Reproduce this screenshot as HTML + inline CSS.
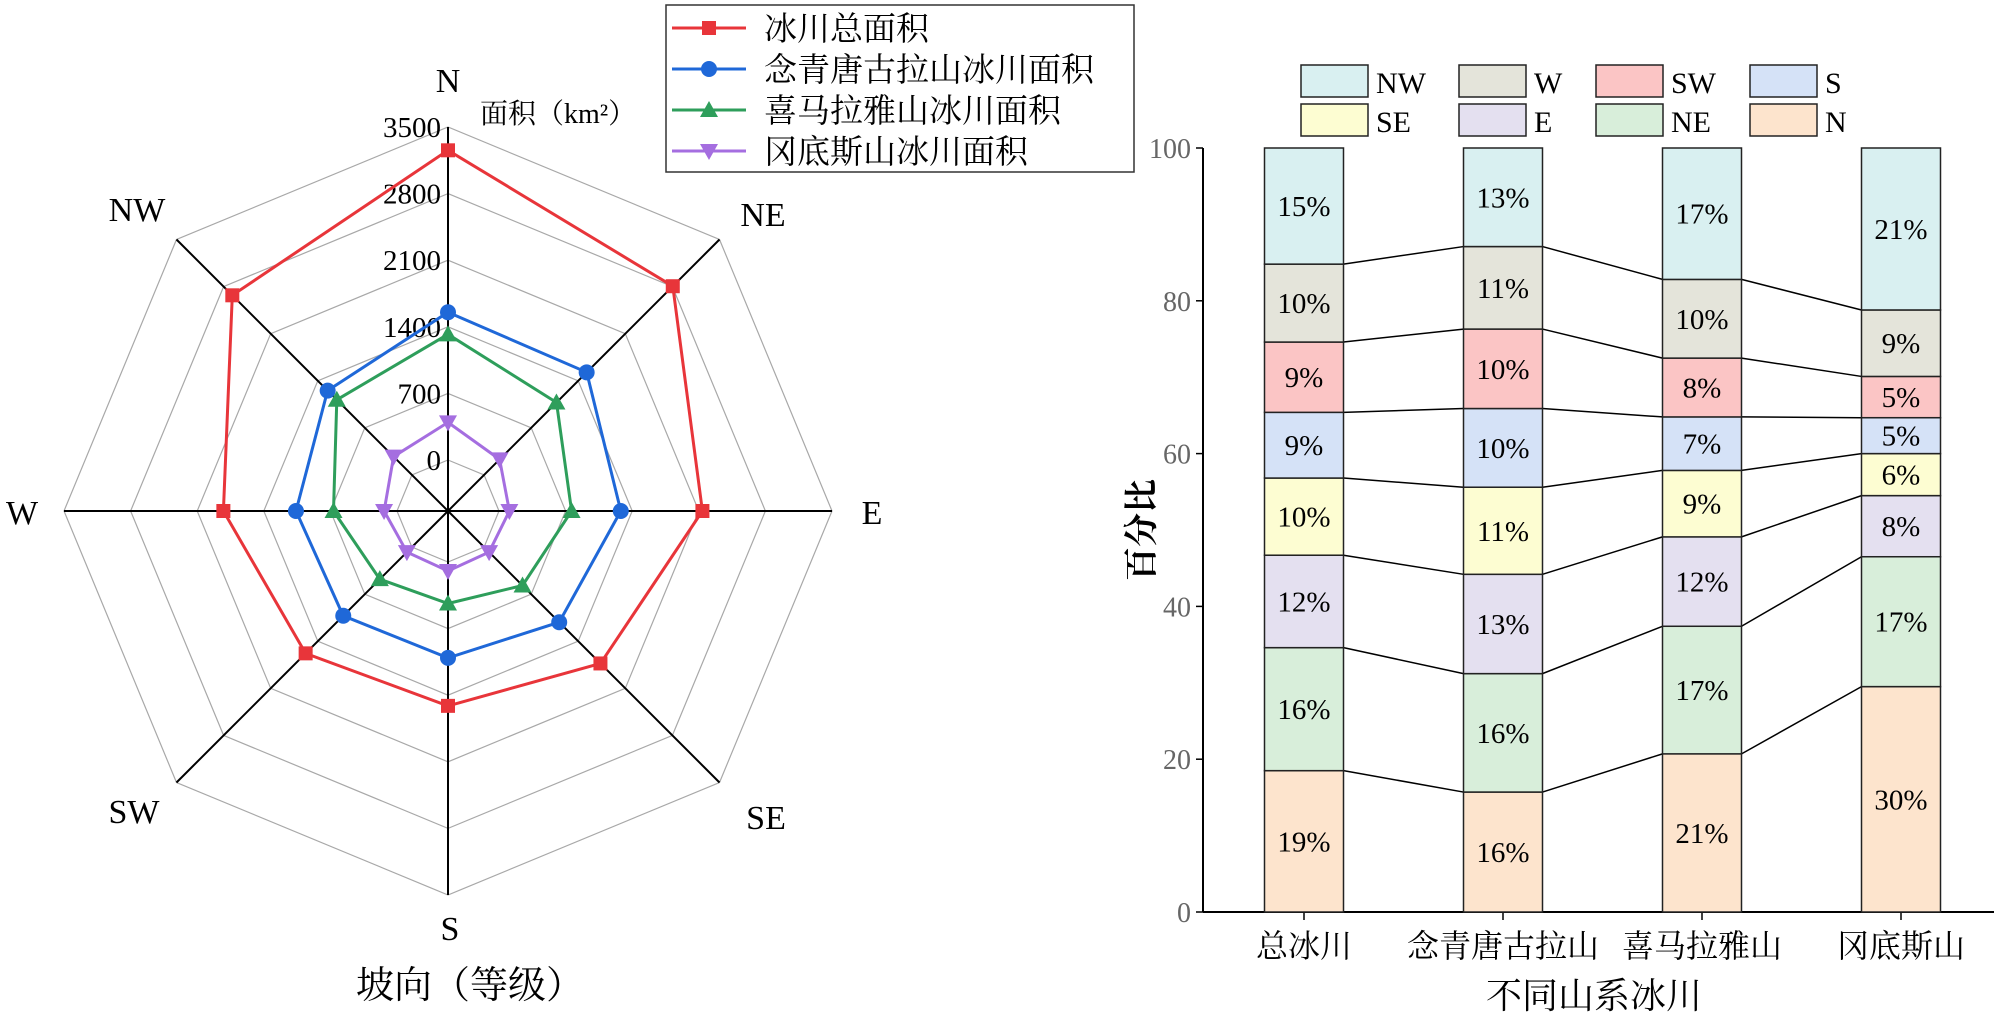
<!DOCTYPE html>
<html><head><meta charset="utf-8"><style>
html,body{margin:0;padding:0;background:#fff;}
svg{display:block;font-family:"Liberation Serif","Noto Serif CJK SC",serif;}
</style></head><body>
<svg id="chart" width="2000" height="1020" viewBox="0 0 2000 1020" xmlns="http://www.w3.org/2000/svg">
<g id="radar"></g>
<g id="bars"></g>
</svg>
<script>
// ---------- Radar data ----------
const directions = ["N","NE","E","SE","S","SW","W","NW"];
const radarTicks = [0,700,1400,2100,2800,3500];
const totalArea = [3255,2805,2138,1730,1512,1580,1825,2670];
const nqtglArea = [1553,1525,1280,1117,1008,1021,1062,1253];
const himalayaArea = [1321,1076,763,572,436,477,667,1117];
const gangdiseArea = [395,231,109,75,95,75,136,272];
const radarSeriesNames = ["冰川总面积","念青唐古拉山冰川面积","喜马拉雅山冰川面积","冈底斯山冰川面积"];

// ---------- Stacked bar data (bottom to top: N, NE, E, SE, S, SW, W, NW) ----------
const stackKeys = ["N","NE","E","SE","S","SW","W","NW"];
const groups = ["总冰川","念青唐古拉山","喜马拉雅山","冈底斯山"];
const pctTotal = [18.5,16.1,12.1,10.1,8.6,9.2,10.2,15.2];
const pctNqtgl = [15.7,15.5,13.0,11.4,10.3,10.4,10.8,12.9];
const pctHimalaya = [20.7,16.7,11.7,8.7,7.0,7.7,10.3,17.2];
const pctGangdise = [29.5,17.0,8.0,5.5,4.7,5.4,8.7,21.2];
const yTicks = [0,20,40,60,80,100];

const NS = "http://www.w3.org/2000/svg";
function mk(parent, tag, attrs, text){
  const e = document.createElementNS(NS, tag);
  for (const k in attrs) e.setAttribute(k, attrs[k]);
  if (text !== undefined) e.textContent = text;
  parent.appendChild(e);
  return e;
}

// ===== RADAR =====
const radar = document.getElementById('radar');
const cx = 448, cy = 511, R = 384, r0 = 51, vmax = 3500;
function rScale(v){ return r0 + v / vmax * (R - r0); }
function ang(i){ return -Math.PI/2 + i * Math.PI/4; }
function pt(i, v){ const r = rScale(v); return [cx + r*Math.cos(ang(i)), cy + r*Math.sin(ang(i))]; }

radarTicks.forEach(t => {
  const pts = directions.map((d,i)=>pt(i,t).map(n=>n.toFixed(1)).join(',')).join(' ');
  const ring = mk(radar,'polygon',{points:pts, fill:'none', stroke:'#a8a8a8', 'stroke-width':1.2});
  
  
});
directions.forEach((d,i)=>{
  const [x,y] = pt(i, vmax);
  const sp = mk(radar,'line',{x1:cx,y1:cy,x2:x.toFixed(1),y2:y.toFixed(1),stroke:'#000','stroke-width':2});
  
  
});
const dirLabelPos = [[448,92],[763,226],[872,524],[766,829],[450,940],[134,823],[22,524],[137,221]];
directions.forEach((d,i)=>{
  const t = mk(radar,'text',{x:dirLabelPos[i][0], y:dirLabelPos[i][1], 'font-size':34, 'text-anchor':'middle'}, d);
  
  
});
radarTicks.forEach(t=>{
  const y = cy - rScale(t);
  const tl = mk(radar,'text',{x:441, y:(y+10).toFixed(1), 'font-size':29, 'text-anchor':'end'}, String(t));
  
  
});
const unit = mk(radar,'text',{x:480,y:123,'font-size':28},'面积（km²）');


const rt = mk(radar,'text',{x:470,y:998,'font-size':38,'text-anchor':'middle'},'坡向（等级）');



const radarData = [totalArea, nqtglArea, himalayaArea, gangdiseArea];
const radarColors = ["#e8353a","#1f68d8","#2e9e5b","#a56ee0"];
const markerTypes = ["square","circle","tri","tridown"];
function marker(g, type, x, y, color, s){
  let m;
  if (type==='square') m = mk(g,'rect',{x:x-s,y:y-s,width:2*s,height:2*s,fill:color});
  else if (type==='circle') m = mk(g,'circle',{cx:x,cy:y,r:s+1,fill:color});
  else if (type==='tri') m = mk(g,'polygon',{points:`${x},${y-s-2} ${x-s-2},${y+s} ${x+s+2},${y+s}`,fill:color});
  else m = mk(g,'polygon',{points:`${x},${y+s+2} ${x-s-2},${y-s} ${x+s+2},${y-s}`,fill:color});
  return m;
}
radarData.forEach((arr,si)=>{
  const g = mk(radar,'g',{});
  
  
  const pts = arr.map((v,i)=>pt(i,v));
  const poly = mk(g,'polygon',{points:pts.map(p=>p.map(n=>n.toFixed(1)).join(',')).join(' '),fill:'none',stroke:radarColors[si],'stroke-width':3});
  
  
  pts.forEach(p=>{
    const m = marker(g, markerTypes[si], p[0], p[1], radarColors[si], 7);
    
    
  });
});
const lg = mk(radar,'g',{});


mk(lg,'rect',{x:666,y:5,width:468,height:167,fill:'#fff',stroke:'#333','stroke-width':1.5});
const legY = [28,69,110,151];
radarSeriesNames.forEach((n,i)=>{
  const e = mk(lg,'g',{});
  
  
  mk(e,'line',{x1:672,y1:legY[i],x2:746,y2:legY[i],stroke:radarColors[i],'stroke-width':3});
  marker(e, markerTypes[i], 709, legY[i], radarColors[i], 7);
  mk(e,'text',{x:764,y:legY[i]+12,'font-size':33},n);
});

// ===== STACKED BARS =====
const bars = document.getElementById('bars');
const x0 = 1203, x1 = 1994, yb = 912, yt = 148;
const groupCenters0 = 1304, groupStep = 199, barW = 79;
function yScale(v){ return yb - v/100*(yb-yt); }
function xScale(i){ return groupCenters0 + i*groupStep; }
const stackColors = {N:'#fde4cd',NE:'#d8eeda',E:'#e4e0f0',SE:'#fdfdd2',S:'#d5e2f7',SW:'#fbc5c5',W:'#e4e4da',NW:'#d9f0f1'};
const pctData = [pctTotal,pctNqtgl,pctHimalaya,pctGangdise];

const ax = mk(bars,'line',{x1:x0,y1:yb,x2:x1,y2:yb,stroke:'#000','stroke-width':2});


const ay = mk(bars,'line',{x1:x0,y1:yb,x2:x0,y2:yt,stroke:'#000','stroke-width':2});


yTicks.forEach(t=>{
  const y = yScale(t);
  mk(bars,'line',{x1:x0-7,y1:y,x2:x0,y2:y,stroke:'#000','stroke-width':1.5});
  const tl = mk(bars,'text',{x:x0-12,y:y+10,'font-size':28,'text-anchor':'end',fill:'#666'},String(t));
  
  
});
const yt1 = mk(bars,'text',{x:0,y:0,'font-size':34,'font-weight':'bold','text-anchor':'middle',transform:'translate(1153,530) rotate(-90)'},'百分比');


groups.forEach((g,i)=>{
  const x = xScale(i);
  mk(bars,'line',{x1:x,y1:yb,x2:x,y2:yb+8,stroke:'#000','stroke-width':1.5});
  const tl = mk(bars,'text',{x:x,y:957,'font-size':32,'text-anchor':'middle'},g);
  
  
});
const xt = mk(bars,'text',{x:1594,y:1008,'font-size':36,'text-anchor':'middle'},'不同山系冰川');



const cum = pctData.map(arr=>{ let s=0; return arr.map(v=>{s+=v; return s;}); });
for (let gi=0; gi<groups.length-1; gi++){
  stackKeys.forEach((k,ki)=>{
    if (ki===stackKeys.length-1) return;
    const c = mk(bars,'line',{x1:xScale(gi)+barW/2,y1:yScale(cum[gi][ki]),x2:xScale(gi+1)-barW/2,y2:yScale(cum[gi+1][ki]),stroke:'#000','stroke-width':1.5});
    
    
  });
}
pctData.forEach((arr,gi)=>{
  const g = mk(bars,'g',{});
  
  
  let base = 0;
  arr.forEach((v,ki)=>{
    const yTop = yScale(base+v), yBot = yScale(base);
    const r = mk(g,'rect',{x:xScale(gi)-barW/2,y:yTop,width:barW,height:yBot-yTop,fill:stackColors[stackKeys[ki]],stroke:'#222','stroke-width':1.5});
    
    
    const lbl = mk(g,'text',{x:xScale(gi),y:(yTop+yBot)/2+10,'font-size':29,'text-anchor':'middle'},Math.round(v)+'%');
    
    
    base += v;
  });
});
const legOrder = ["NW","W","SW","S","SE","E","NE","N"];
const legX = [1301,1459,1596,1750], legRowY = [65,104];
const bl = mk(bars,'g',{});


legOrder.forEach((k,i)=>{
  const col = i%4, row = Math.floor(i/4);
  const e = mk(bl,'g',{});
  
  
  mk(e,'rect',{x:legX[col],y:legRowY[row],width:67,height:32,fill:stackColors[k],stroke:'#222','stroke-width':1.5});
  mk(e,'text',{x:legX[col]+75,y:legRowY[row]+28,'font-size':30},k);
});
</script>
</body></html>
